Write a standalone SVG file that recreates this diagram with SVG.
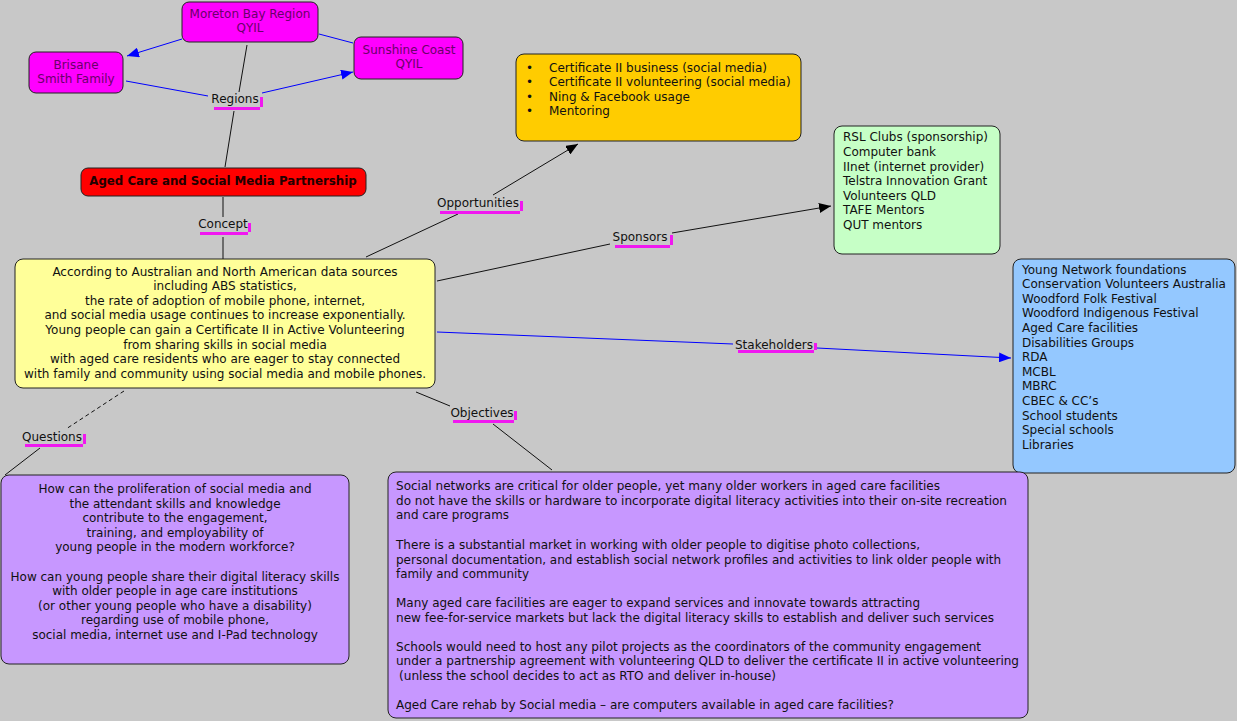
<svg xmlns="http://www.w3.org/2000/svg" width="1237" height="721" viewBox="0 0 1237 721">
<defs>
<marker id="ab" viewBox="0 0 12 10" refX="12" refY="5" markerWidth="12" markerHeight="10" markerUnits="userSpaceOnUse" orient="auto"><path d="M0,0 L12,5 L0,10 Z" fill="#000"/></marker>
<marker id="au" viewBox="0 0 12 10" refX="12" refY="5" markerWidth="12" markerHeight="10" markerUnits="userSpaceOnUse" orient="auto"><path d="M0,0 L12,5 L0,10 Z" fill="#0000FF"/></marker>
<style>
text{font-family:"DejaVu Sans","Liberation Sans",sans-serif;font-size:12px;fill:#111}
.box{stroke:#222;stroke-width:1}
.mt{fill:#6A006A}
.c{text-anchor:middle}
.ln{stroke:#111;stroke-width:1;fill:none}
.bl{stroke:#0000FF;stroke-width:1;fill:none}
.ul{fill:#F018F0}
.obj text{font-family:"DejaVu Sans Condensed","DejaVu Sans",sans-serif;font-size:12px}
</style>
</defs>
<rect width="1237" height="721" fill="#C8C8C8"/>

<g id="connectors">
<line class="bl" x1="182" y1="39" x2="127" y2="56" marker-end="url(#au)"/>
<line class="bl" x1="319" y1="34" x2="353" y2="43"/>
<line class="ln" x1="247" y1="45" x2="239" y2="92"/>
<line class="ln" x1="234" y1="111" x2="225" y2="167"/>
<line class="bl" x1="126" y1="81" x2="208" y2="96"/>
<line class="bl" x1="262" y1="93" x2="353" y2="72" marker-end="url(#au)"/>
<line class="ln" x1="223" y1="197" x2="223" y2="217"/>
<line class="ln" x1="223" y1="237" x2="223" y2="259"/>
<line class="ln" x1="366" y1="257" x2="458" y2="214"/>
<line class="ln" x1="493" y1="195" x2="578" y2="144" marker-end="url(#ab)"/>
<line class="ln" x1="437" y1="281" x2="610" y2="244"/>
<line class="ln" x1="672" y1="233" x2="831" y2="206" marker-end="url(#ab)"/>
<line class="bl" x1="437" y1="332" x2="733" y2="344"/>
<line class="bl" x1="817" y1="348" x2="1011" y2="358" marker-end="url(#au)"/>
<line class="ln" x1="416" y1="392" x2="450" y2="406"/>
<line class="ln" x1="493" y1="424" x2="552" y2="470"/>
<line class="ln" x1="124" y1="391" x2="66" y2="429" stroke-dasharray="4,3"/>
<line class="ln" x1="40" y1="448" x2="5" y2="475"/>
</g>

<g id="labels">
<g id="lbl-regions"><path class="ul" d="M214,107 H263 V97 H260 V110 H214 Z"/><text x="235" y="103" class="c">Regions</text></g>
<g id="lbl-concept"><path class="ul" d="M200,232 H251 V223 H248 V235 H200 Z"/><text x="223" y="228" class="c">Concept</text></g>
<g id="lbl-opp"><path class="ul" d="M440,211 H523 V201 H520 V214 H440 Z"/><text x="478" y="207" class="c">Opportunities</text></g>
<g id="lbl-spons"><path class="ul" d="M615,245 H673 V235 H670 V248 H615 Z"/><text x="640" y="241" class="c">Sponsors</text></g>
<g id="lbl-stake"><path class="ul" d="M738,350 H817 V343 H814 V353 H738 Z"/><text x="774" y="349" class="c">Stakeholders</text></g>
<g id="lbl-obj"><path class="ul" d="M453,420 H517 V411 H514 V423 H453 Z"/><text x="482" y="417" class="c">Objectives</text></g>
<g id="lbl-q"><path class="ul" d="M25,444 H86 V434 H83 V447 H25 Z"/><text x="52" y="441" class="c">Questions</text></g>
</g>

<g id="n-moreton"><rect class="box" x="182" y="2" width="136" height="40" rx="7" fill="#FF00FF"/><text class="c mt" x="250" y="18">Moreton Bay Region</text><text class="c mt" x="250" y="32">QYIL</text></g>
<g id="n-brisane"><rect class="box" x="29" y="52" width="94" height="41" rx="7" fill="#FF00FF"/><text class="c mt" x="76" y="69">Brisane</text><text class="c mt" x="76" y="83">Smith Family</text></g>
<g id="n-sunshine"><rect class="box" x="354" y="37" width="109" height="42" rx="7" fill="#FF00FF"/><text class="c mt" x="409" y="54">Sunshine Coast</text><text class="c mt" x="409" y="68">QYIL</text></g>

<g id="n-main"><rect class="box" x="81" y="168" width="285" height="28" rx="7" fill="#FF0000"/><text class="c" x="223" y="185" style="font-weight:bold;fill:#200;font-size:11.8px">Aged Care and Social Media Partnership</text></g>

<g id="n-concept"><rect class="box" x="15" y="259" width="420" height="129" rx="8" fill="#FFFF99"/>
<text class="c" x="225" y="276">According to Australian and North American data sources</text>
<text class="c" x="225" y="290">including ABS statistics,</text>
<text class="c" x="225" y="305">the rate of adoption of mobile phone, internet,</text>
<text class="c" x="225" y="319">and social media usage continues to increase exponentially.</text>
<text class="c" x="225" y="334">Young people can gain a Certificate II in Active Volunteering</text>
<text class="c" x="225" y="349">from sharing skills in social media</text>
<text class="c" x="225" y="363">with aged care residents who are eager to stay connected</text>
<text class="c" x="225" y="378">with family and community using social media and mobile phones.</text>
</g>

<g id="n-opportunities"><rect class="box" x="516" y="54" width="285" height="87" rx="8" fill="#FFCC00"/>
<text x="526" y="72">•</text><text x="549" y="72">Certificate II business (social media)</text>
<text x="526" y="86">•</text><text x="549" y="86">Certificate II volunteering (social media)</text>
<text x="526" y="101">•</text><text x="549" y="101">Ning &amp; Facebook usage</text>
<text x="526" y="115">•</text><text x="549" y="115">Mentoring</text>
</g>

<g id="n-sponsors"><rect class="box" x="834" y="126" width="166" height="128" rx="8" fill="#C6FFC6"/>
<text x="843" y="141">RSL Clubs (sponsorship)</text>
<text x="843" y="156">Computer bank</text>
<text x="843" y="171">IInet (internet provider)</text>
<text x="843" y="185">Telstra Innovation Grant</text>
<text x="843" y="200">Volunteers QLD</text>
<text x="843" y="214">TAFE Mentors</text>
<text x="843" y="229">QUT mentors</text>
</g>

<g id="n-stakeholders"><rect class="box" x="1013" y="259" width="222" height="214" rx="8" fill="#94C8FF"/>
<text x="1022" y="274">Young Network foundations</text>
<text x="1022" y="288">Conservation Volunteers Australia</text>
<text x="1022" y="303">Woodford Folk Festival</text>
<text x="1022" y="317">Woodford Indigenous Festival</text>
<text x="1022" y="332">Aged Care facilities</text>
<text x="1022" y="347">Disabilities Groups</text>
<text x="1022" y="361">RDA</text>
<text x="1022" y="376">MCBL</text>
<text x="1022" y="390">MBRC</text>
<text x="1022" y="405">CBEC &amp; CC’s</text>
<text x="1022" y="420">School students</text>
<text x="1022" y="434">Special schools</text>
<text x="1022" y="449">Libraries</text>
</g>

<g id="n-questions"><rect class="box" x="1" y="475" width="348" height="189" rx="8" fill="#C797FF"/>
<text class="c" x="175" y="493">How can the proliferation of social media and</text>
<text class="c" x="175" y="508">the attendant skills and knowledge</text>
<text class="c" x="175" y="522">contribute to the engagement,</text>
<text class="c" x="175" y="537">training, and employability of</text>
<text class="c" x="175" y="551">young people in the modern workforce?</text>
<text class="c" x="175" y="581">How can young people share their digital literacy skills</text>
<text class="c" x="175" y="595">with older people in age care institutions</text>
<text class="c" x="175" y="610">(or other young people who have a disability)</text>
<text class="c" x="175" y="624">regarding use of mobile phone,</text>
<text class="c" x="175" y="639">social media, internet use and I-Pad technology</text>
</g>

<g id="n-objectives" class="obj"><rect class="box" x="388" y="472" width="640" height="246" rx="8" fill="#C797FF"/>
<text x="396" y="490" textLength="544" lengthAdjust="spacingAndGlyphs">Social networks are critical for older people, yet many older workers in aged care facilities</text>
<text x="396" y="505" textLength="611" lengthAdjust="spacingAndGlyphs">do not have the skills or hardware to incorporate digital literacy activities into their on-site recreation</text>
<text x="396" y="519" textLength="113" lengthAdjust="spacingAndGlyphs">and care programs</text>
<text x="396" y="549" textLength="524" lengthAdjust="spacingAndGlyphs">There is a substantial market in working with older people to digitise photo collections,</text>
<text x="396" y="564" textLength="605" lengthAdjust="spacingAndGlyphs">personal documentation, and establish social network profiles and activities to link older people with</text>
<text x="396" y="578" textLength="133" lengthAdjust="spacingAndGlyphs">family and community</text>
<text x="396" y="607" textLength="524" lengthAdjust="spacingAndGlyphs">Many aged care facilities are eager to expand services and innovate towards attracting</text>
<text x="396" y="622" textLength="598" lengthAdjust="spacingAndGlyphs">new fee-for-service markets but lack the digital literacy skills to establish and deliver such services</text>
<text x="396" y="651" textLength="585" lengthAdjust="spacingAndGlyphs">Schools would need to host any pilot projects as the coordinators of the community engagement</text>
<text x="396" y="665" textLength="623" lengthAdjust="spacingAndGlyphs">under a partnership agreement with volunteering QLD to deliver the certificate II in active volunteering</text>
<text x="399" y="680" textLength="377" lengthAdjust="spacingAndGlyphs">(unless the school decides to act as RTO and deliver in-house)</text>
<text x="396" y="709" textLength="498" lengthAdjust="spacingAndGlyphs">Aged Care rehab by Social media – are computers available in aged care facilities?</text>
</g>
</svg>
